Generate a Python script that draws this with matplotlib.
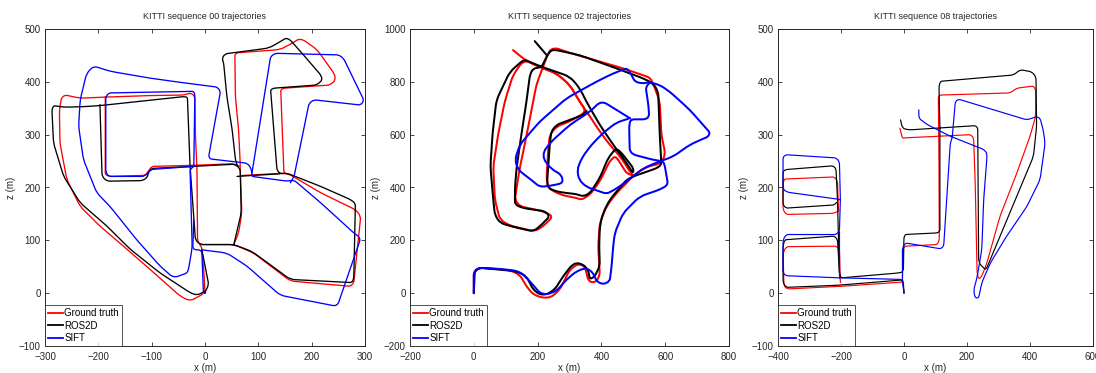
import matplotlib
matplotlib.use("Agg")
import matplotlib.pyplot as plt
from matplotlib.path import Path
from matplotlib.patches import PathPatch
from matplotlib.lines import Line2D
import math

plt.rcParams['font.family'] = ['Liberation Sans', 'DejaVu Sans']

# ---------------- KITTI 00 ----------------
gt00 = [
    [(-3, 1), (-6, -3), (-28, -15), (-46, -6), (-103, 45), (-153, 89), (-197, 127), (-234, 164),
     (-259, 215), (-272, 284), (-273, 347), (-269, 370), (-262, 375), (-234, 369), (-190, 371),
     (-103, 374), (-40, 375), (-26, 379), (-19, 372), (-18, 300), (-15, 233), (-14, 100), (-10, 92),
     (54, 92), (91, 76), (160, 23), (273, 13), (279, 20), (292, 146), (282, 158), (217, 190),
     (160, 224), (148, 227), (142, 385), (148, 388), (235, 394), (245, 404), (242, 416), (210, 461),
     (185, 479), (176, 481), (163, 473), (141, 461), (60, 455), (56, 451), (57, 372), (63, 309),
     (66, 246), (66, 234), (69, 152), (63, 114), (54, 92)],
    [(0, 0), (-2, 40), (-6, 86), (-10, 92)],
    [(-187, 372), (-187, 224), (-178, 221), (-112, 223), (-106, 231), (-100, 240), (-21, 242),
     (54, 245), (65, 240)],
    [(148, 227), (73, 223), (66, 222)],
]
ros00 = [
    [(0, 0), (1, 4), (7, 16), (-6, 83)],
    [(1, 4), (-15, -4), (-28, 1), (-84, 38), (-140, 83), (-184, 127), (-234, 171), (-265, 221),
     (-284, 284), (-287, 347), (-284, 355), (-265, 352), (-228, 353), (-197, 355), (-40, 372),
     (-33, 371), (-28, 240), (-18, 101), (-9, 92), (54, 92), (88, 79), (160, 26), (276, 20),
     (279, 29), (282, 170), (273, 177), (217, 202), (154, 227), (141, 226), (135, 233),
     (123, 385), (129, 388), (210, 394), (220, 404), (217, 413), (182, 454), (160, 479),
     (152, 483), (141, 476), (120, 464), (38, 453), (32, 445), (35, 435), (41, 372), (51, 309),
     (57, 253), (61, 240), (66, 234), (68, 152), (54, 92)],
    [(-197, 357), (-193, 221), (-184, 212), (-118, 213), (-109, 218), (-103, 236), (-21, 240),
     (54, 244), (61, 240)],
    [(141, 226), (60, 221)],
]
sift00 = [
    [(0, 0), (-3, 1), (-6, 82), (-23, 82), (-21, 139)],
    [(-21, 240), (-28, 234), (-24, 86), (-31, 45), (-34, 38), (-59, 29), (-84, 51), (-128, 101),
     (-178, 164), (-203, 190), (-228, 253), (-237, 316), (-234, 366), (-222, 416), (-209, 430),
     (-178, 420), (-103, 407), (-46, 399), (23, 390), (29, 382), (7, 259), (10, 254), (79, 246),
     (86, 237), (88, 227), (88, 221), (154, 212), (167, 214), (217, 171), (279, 114), (292, 104),
     (248, -25), (141, -4), (79, 51), (41, 76), (-6, 82)],
    [(-21, 240), (-103, 234), (-112, 221), (-181, 221), (-186, 230), (-186, 372), (-180, 379),
     (-21, 382), (-19, 375), (-21, 240)],
    [(88, 227), (123, 448), (132, 454), (251, 451), (260, 444), (298, 365), (292, 356),
     (204, 366), (195, 359), (167, 221), (160, 209)],
]

# ---------------- KITTI 02 ----------------
gt02 = [
    [(0, 0), (0, 77), (8, 92), (24, 96), (113, 87), (144, 70), (165, 26), (186, -5), (217, -18),
     (243, -15), (270, 14), (301, 89), (327, 111), (348, 102), (358, 52), (369, 40), (385, 45),
     (395, 70), (390, 178), (395, 266), (416, 329), (447, 379), (479, 417), (500, 445), (541, 478),
     (583, 490), (596, 510), (599, 536), (588, 599), (583, 725), (562, 794), (552, 816),
     (468, 851), (300, 910), (259, 927), (243, 924), (233, 908), (217, 857), (196, 788),
     (176, 662), (155, 536), (144, 473), (134, 398), (129, 354), (144, 329), (217, 310),
     (249, 291), (217, 253), (191, 234), (144, 247), (113, 256), (82, 278), (66, 354), (61, 480),
     (76, 599), (97, 725), (123, 826), (149, 870), (165, 879), (217, 851), (259, 832), (301, 788),
     (332, 725), (353, 687), (301, 650), (259, 631), (238, 599), (233, 536), (228, 436),
     (233, 398), (270, 373), (322, 360), (338, 354), (364, 373), (395, 423), (426, 499),
     (442, 518), (452, 506), (479, 454), (500, 445)],
    [(500, 445), (489, 461), (463, 511), (426, 562), (395, 612), (364, 669), (332, 725),
     (301, 788), (259, 832), (217, 851), (165, 879), (123, 920)],
]
ros02 = [
    [(0, 0), (3, 83), (19, 96), (82, 89), (134, 83), (165, 64), (186, 14), (207, -5), (228, -5),
     (254, 14), (280, 64), (306, 104), (322, 115), (343, 108), (358, 89), (364, 52), (379, 64),
     (395, 102), (393, 178), (395, 253), (405, 303), (426, 354), (479, 429), (500, 442),
     (573, 473), (588, 486), (583, 599), (578, 763), (562, 794), (531, 813), (447, 851),
     (332, 901), (259, 920), (243, 920), (230, 899), (212, 855), (186, 851), (176, 826),
     (165, 725), (149, 599), (134, 473), (129, 398), (129, 335), (155, 322), (223, 310),
     (238, 291), (207, 253), (186, 234), (123, 251), (82, 266), (66, 297), (61, 354), (52, 480),
     (59, 606), (71, 731), (113, 838), (149, 876), (160, 883), (186, 870), (217, 855), (301, 820),
     (332, 776), (353, 725), (395, 637), (437, 562), (468, 511), (489, 473), (500, 454),
     (500, 473), (468, 524), (452, 543), (442, 543), (421, 511), (395, 436), (364, 379),
     (343, 366), (322, 375), (291, 379), (259, 385), (233, 398), (230, 423), (233, 473),
     (238, 562), (243, 612), (259, 637), (301, 656), (343, 675), (353, 690)],
    [(191, 954), (230, 899)],
]
sift02 = [
    [(0, 1), (0, 77), (14, 96), (82, 92), (144, 83), (176, 45), (207, 1), (228, -5), (259, 8),
     (291, 52), (322, 83), (353, 96), (374, 77), (385, 45), (405, 33), (426, 45), (432, 102),
     (437, 178), (442, 228), (468, 303), (520, 366), (583, 392), (609, 410), (599, 480),
     (594, 499), (562, 505), (489, 528), (487, 631), (491, 658), (550, 658), (548, 706),
     (539, 779), (552, 798)],
    [(552, 798), (583, 788), (614, 763), (677, 694), (740, 608), (735, 593), (677, 562),
     (625, 517), (583, 499), (531, 473), (479, 423), (442, 392), (416, 376), (395, 385),
     (353, 402), (330, 429), (324, 467), (338, 511), (369, 562), (405, 606), (447, 646),
     (484, 660)],
    [(552, 798), (526, 794), (505, 801), (489, 838), (479, 851), (437, 832), (385, 801),
     (291, 738), (207, 650), (144, 562), (129, 505), (139, 467), (186, 423), (207, 402),
     (243, 407), (280, 417), (275, 448), (243, 470), (219, 507), (219, 536), (243, 574),
     (301, 637), (364, 687), (400, 729), (447, 694), (491, 661)],
]

# ---------------- KITTI 08 ----------------
gt08 = [
    [(0, 0), (-3, 15), (-5, 21), (-200, 13), (-369, 8), (-381, 13), (-384, 76), (-374, 88),
     (-216, 89), (-205, 83), (-202, 20)],
    [(-208, 155), (-211, 212), (-221, 220), (-379, 216), (-384, 209), (-384, 158), (-374, 149),
     (-226, 151), (-208, 155)],
    [(-5, 21), (-3, 85), (5, 89), (105, 92), (112, 100), (111, 250), (109, 372), (116, 375),
     (337, 379), (358, 388), (411, 392), (418, 385), (418, 335), (400, 297), (358, 227),
     (305, 146), (263, 57), (247, 32), (237, 26), (232, 39), (226, 209), (221, 294), (211, 300),
     (5, 294), (-5, 293), (-13, 312)],
]
ros08 = [
    [(0, 0), (-2, 20), (-5, 25), (-211, 15), (-374, 11), (-384, 20), (-384, 89), (-379, 101),
     (-221, 108), (-211, 101), (-205, 38), (-200, 29), (-21, 38), (-2, 40), (0, 111), (105, 114),
     (114, 117), (114, 316), (111, 392), (116, 401), (348, 413), (369, 423), (405, 419),
     (419, 410), (421, 316), (411, 259), (263, 48), (258, 45), (237, 57), (234, 313), (226, 317),
     (16, 309), (-5, 312), (-11, 328)],
    [(-205, 38), (-208, 101), (-211, 174), (-221, 167), (-374, 161), (-384, 167), (-384, 231),
     (-374, 234), (-226, 241), (-216, 236), (-211, 174)],
]
sift08 = [
    [(0, 0), (-5, 26), (-205, 29), (-374, 33), (-384, 38), (-384, 101), (-374, 111), (-216, 111),
     (-205, 117), (-202, 177), (-205, 249), (-216, 256), (-374, 262), (-384, 258), (-384, 196),
     (-369, 191), (-211, 178), (-202, 177)],
    [(-205, 117), (-205, 29)],
    [(-5, 26), (-5, 86), (5, 95), (116, 84), (126, 89), (147, 284), (153, 294), (163, 363),
     (174, 367), (390, 328), (421, 334), (432, 331), (442, 309), (448, 284), (432, 215),
     (390, 164), (326, 108), (274, 57), (247, 20), (237, -9), (226, -9), (221, 5), (232, 30),
     (247, 83), (253, 177), (263, 255), (263, 265), (253, 272), (147, 297), (74, 319), (47, 331),
     (47, 347)],
]

titles = ["KITTI sequence 00 trajectories", "KITTI sequence 02 trajectories",
          "KITTI sequence 08 trajectories"]
labels = ["Ground truth", "ROS2D", "SIFT"]
colors = ["#ff0000", "#000000", "#0000ff"]
xlims = [(-300, 300), (-200, 800), (-400, 600)]
ylims = [(-100, 500), (-200, 1000), (-100, 500)]
xticks = [range(-300, 301, 100), range(-200, 801, 200), range(-400, 601, 200)]
yticks = [range(-100, 501, 100), range(-200, 1001, 200), range(-100, 501, 100)]
lws = [0.95, 1.45, 0.85]
radii = [9, 22, 9]  # corner rounding (drawing style only), in data units
series = [(gt00, ros00, sift00), (gt02, ros02, sift02), (gt08, ros08, sift08)]


def rounded_path(seg, r):
    """Polyline through the points with softly rounded corners."""
    verts = [seg[0]]
    codes = [Path.MOVETO]
    n = len(seg)
    for j in range(1, n - 1):
        (x0, y0), (x1, y1), (x2, y2) = seg[j - 1], seg[j], seg[j + 1]
        d1 = math.hypot(x1 - x0, y1 - y0)
        d2 = math.hypot(x2 - x1, y2 - y1)
        rr = min(r, 0.45 * d1, 0.45 * d2)
        if rr <= 0:
            verts.append((x1, y1)); codes.append(Path.LINETO)
            continue
        a = (x1 - (x1 - x0) * rr / d1, y1 - (y1 - y0) * rr / d1)
        b = (x1 + (x2 - x1) * rr / d2, y1 + (y2 - y1) * rr / d2)
        verts += [a, (x1, y1), b]
        codes += [Path.LINETO, Path.CURVE3, Path.CURVE3]
    verts.append(seg[-1])
    codes.append(Path.LINETO)
    return Path(verts, codes)


W, H = 1096, 373
fig = plt.figure(figsize=(W / 100, H / 100), dpi=100)
boxes = [(45, 320), (410, 319), (778, 315)]
txtc = '#262626'
for i, (l, w) in enumerate(boxes):
    ax = fig.add_axes([l / W, 27 / H, w / W, 317 / H])
    handles = []
    for segs, c, lab in zip(series[i], colors, labels):
        for seg in segs:
            ax.add_patch(PathPatch(rounded_path(seg, radii[i]), facecolor='none',
                                   edgecolor=c, lw=lws[i], joinstyle='round',
                                   capstyle='round'))
        handles.append(Line2D([], [], color=c, lw=1.3))
    ax.set_xlim(*xlims[i])
    ax.set_ylim(*ylims[i])
    ax.set_xticks(list(xticks[i]))
    ax.set_yticks(list(yticks[i]))
    ax.tick_params(direction='in', length=3, width=0.6, top=True, right=True,
                   labelsize=7, colors=txtc)
    ax.tick_params(axis='x', pad=4)
    ax.tick_params(axis='y', pad=3)
    for s in ax.spines.values():
        s.set_linewidth(0.7)
        s.set_color(txtc)
    ax.set_title(titles[i], fontsize=6.5, color=txtc, pad=7)
    ax.set_xlabel("x (m)", fontsize=7, color=txtc, labelpad=1)
    ax.set_ylabel("z (m)", fontsize=7, color=txtc, labelpad=2)
    leg = ax.legend(handles, labels, loc='lower left', fontsize=7, frameon=True,
                    fancybox=False, borderaxespad=0.0, handlelength=1.5,
                    handletextpad=0.2, borderpad=0.3, labelspacing=0.25)
    leg.get_frame().set_edgecolor(txtc)
    leg.get_frame().set_linewidth(0.7)

fig.savefig("out.png", dpi=100)
